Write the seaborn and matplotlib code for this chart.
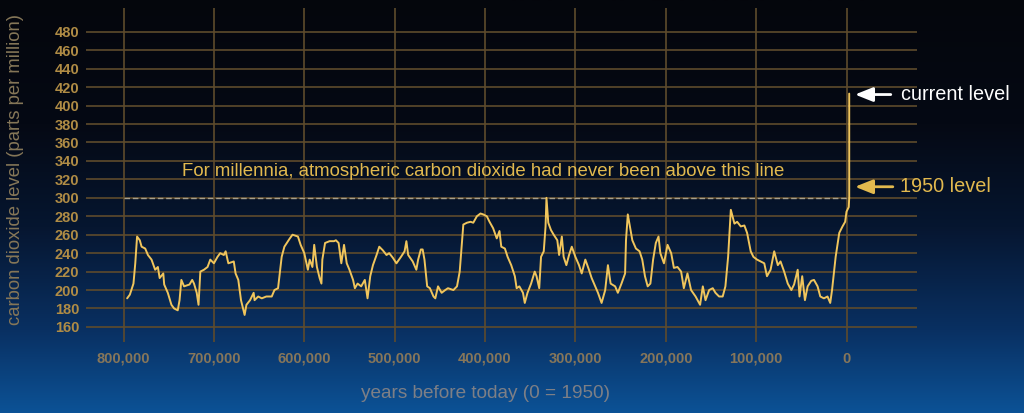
import numpy as np
import pandas as pd
import seaborn as sns
import matplotlib.pyplot as plt
from matplotlib.ticker import FuncFormatter

# thousands of years before 1950
years_k = [796, 793, 789, 787, 785, 782, 780, 776, 773, 769, 765, 762, 760, 756, 755, 751, 747, 744, 740, 738,
           736, 733, 727, 724, 722, 719, 717, 715, 711, 707, 704, 700, 696, 693, 689, 687, 684, 678, 676, 673,
           670, 666, 664, 660, 656, 655, 651, 647, 642, 636, 633, 629, 625, 622, 616, 613, 607, 604, 600, 596,
           594, 591, 589, 586, 583, 581, 580, 577, 572, 567, 565, 562, 559, 556, 553, 550, 546, 544, 541, 537,
           533, 530, 527, 524, 520, 517, 513, 509, 506, 502, 498, 493, 489, 487, 485, 480, 476, 474, 471, 469,
           467, 464, 461, 457, 455, 452, 448, 444, 441, 435, 431, 428, 424, 420, 416, 413, 409, 405, 402, 398,
           395, 391, 387, 384, 382, 378, 375, 371, 367, 365, 362, 358, 356, 353, 349, 345, 343, 340, 338, 335,
           333, 332, 330, 327, 324, 320, 318, 315, 313, 310, 307, 304, 300, 296, 293, 289, 285, 282, 278, 275,
           271, 267, 264, 261, 256, 253, 249, 245, 244, 242, 237, 233, 229, 226, 223, 220, 217, 214, 211, 208,
           206, 202, 198, 194, 191, 187, 183, 180, 176, 172, 167, 162, 159, 156, 152, 148, 145, 141, 137, 134,
           131, 128, 124, 121, 117, 113, 110, 106, 103, 99, 95, 91, 88, 84, 80, 76, 73, 69, 65, 61,
           58, 54, 52, 49, 46, 43, 39, 36, 32, 29, 25, 21, 18, 16, 12, 8, 4.4, 1.5, 0, -2.5, -3, -3]
ppm = [191, 195, 207, 229, 258, 254, 247, 245, 238, 233, 222, 225, 213, 218, 206, 197, 184, 180, 178, 189,
       211, 204, 206, 211, 207, 197, 184, 220, 222, 225, 233, 229, 236, 240, 238, 242, 229, 231, 218, 211,
       189, 173, 184, 189, 197, 189, 193, 191, 193, 193, 200, 202, 236, 247, 256, 260, 258, 249, 240, 222,
       233, 225, 249, 225, 213, 207, 233, 251, 253, 253, 254, 251, 229, 249, 229, 222, 211, 202, 207, 204,
       211, 191, 215, 227, 238, 247, 243, 238, 240, 235, 229, 236, 242, 253, 238, 231, 222, 233, 244, 244,
       233, 204, 202, 193, 191, 204, 197, 200, 202, 200, 204, 220, 271, 273, 274, 273, 280, 283, 282, 280,
       274, 267, 256, 264, 247, 245, 236, 227, 215, 202, 204, 197, 186, 197, 207, 220, 215, 202, 236, 242,
       269, 300, 273, 265, 260, 254, 238, 258, 236, 227, 238, 247, 236, 227, 218, 233, 222, 213, 204, 197,
       186, 200, 227, 207, 204, 197, 207, 218, 254, 282, 254, 245, 242, 233, 215, 204, 207, 233, 251, 258,
       240, 229, 249, 240, 224, 225, 220, 202, 218, 200, 193, 184, 204, 189, 200, 202, 197, 193, 193, 204,
       236, 287, 272, 274, 269, 270, 262, 242, 236, 233, 231, 229, 215, 222, 242, 227, 231, 220, 207, 200,
       206, 222, 193, 215, 189, 204, 210, 211, 204, 193, 191, 193, 186, 200, 236, 262, 269, 274, 285, 290, 300, 413]

y_ticks = [160, 180, 200, 220, 240, 260, 280, 300, 320, 340, 360, 380, 400, 420, 440, 460, 480]
x_ticks = [800000, 700000, 600000, 500000, 400000, 300000, 200000, 100000, 0]
line_level = 300
level_1950 = 312
level_now = 412

df = pd.DataFrame({"years": np.array(years_k) * 1000, "ppm": ppm})

sns.set_style("dark", {"axes.facecolor": "none", "figure.facecolor": "black"})
plt.rcParams['font.family'] = ['Liberation Sans', 'DejaVu Sans']

fig = plt.figure(figsize=(10.24, 4.13), dpi=100)

# background gradient, black at the top to blue at the bottom
bg = fig.add_axes([0, 0, 1, 1], zorder=-5)
stops = np.array([[4, 6, 12], [5, 9, 20], [6, 22, 48], [9, 48, 98], [12, 82, 150]]) / 255
pos = np.array([0, 0.3, 0.55, 0.8, 1.0])
rows = np.linspace(0, 1, 400)
grad = np.stack([np.interp(rows, pos, stops[:, c]) for c in range(3)], axis=1)
bg.imshow(grad[:, None, :], aspect="auto", extent=[0, 1, 0, 1], origin="upper")
bg.axis("off")

ax = fig.add_axes([0.084, 0.172, 0.8115, 0.809])
ax.set_facecolor("none")

sns.lineplot(data=df, x="years", y="ppm", ax=ax, color="#f0c55c", lw=1.4,
             sort=False, estimator=None, zorder=3)

ax.plot([800000, 0], [line_level, line_level], ls=(0, (4, 2)), color="#a8a08c", lw=1.0, zorder=2)

ax.set_xlim(841500, -78000)
ax.set_ylim(143.7, 506)
ax.set_xticks(x_ticks)
ax.set_yticks(y_ticks)
ax.xaxis.set_major_formatter(FuncFormatter(lambda v, p: f"{int(v):,}"))
ax.grid(True, color="#5e4b2c", lw=1.2)
for s in ax.spines.values():
    s.set_visible(False)
ax.tick_params(length=0)
ax.tick_params(axis="y", pad=5, labelsize=10.5, labelcolor="#b08c45")
ax.tick_params(axis="x", pad=7, labelsize=10.5, labelcolor="#86765a")
for lab in ax.get_xticklabels() + ax.get_yticklabels():
    lab.set_fontweight("bold")

ax.set_xlabel("years before today (0 = 1950)", color="#7d7f86", fontsize=13.7)
ax.xaxis.set_label_coords(0.481, -0.128)
ax.set_ylabel("carbon dioxide level (parts per million)", color="#867758", fontsize=13.3)
ax.yaxis.set_label_coords(-0.075, 0.515)

ax.text(402000, 329, "For millennia, atmospheric carbon dioxide had never been above this line",
        color="#e2b94e", fontsize=13.4, ha="center", va="center")

ax.annotate("current level", xy=(-9400, level_now), xytext=(-60300, level_now),
            color="white", fontsize=14.3, va="center", annotation_clip=False,
            arrowprops=dict(arrowstyle="-|>,head_length=0.75,head_width=0.3", color="white",
                            lw=2, shrinkA=5, shrinkB=0))
ax.annotate("1950 level", xy=(-9400, level_1950), xytext=(-59500, level_1950),
            color="#e2b94e", fontsize=14.3, va="center", annotation_clip=False,
            arrowprops=dict(arrowstyle="-|>,head_length=0.75,head_width=0.3", color="#e2b94e",
                            lw=2, shrinkA=3, shrinkB=0))

plt.savefig("out.png", dpi=100)
